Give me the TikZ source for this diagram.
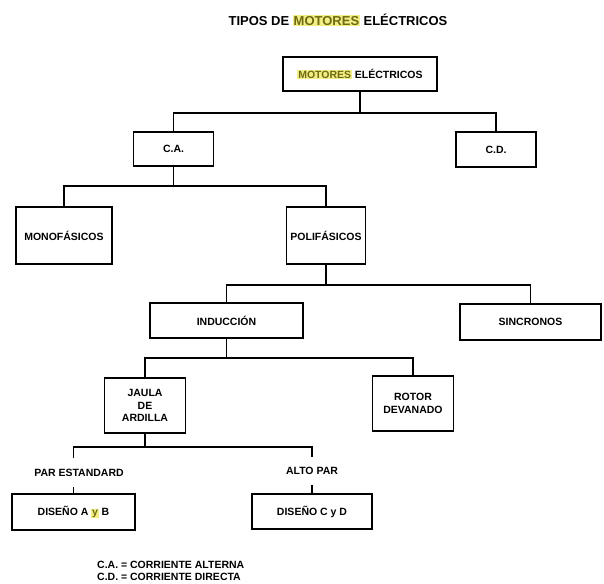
\documentclass[tikz,border=0pt]{standalone}
\usepackage{fontspec}
\setmainfont{Liberation Sans}
\definecolor{amarillo}{HTML}{F2EE86}
\definecolor{oliva}{HTML}{6E6A12}
\newcommand{\resalta}[1]{{\setlength{\fboxsep}{0.8pt}\colorbox{amarillo}{\textcolor{oliva}{#1}}}}

\begin{document}
\begin{tikzpicture}[x=1pt,y=-1pt,
	caja/.style={draw, line width=1.5pt, inner sep=0pt, align=center, font=\bfseries\fontsize{10.5}{12.5}\selectfont},
	etiqueta/.style={inner sep=0pt, minimum height=28pt, font=\bfseries\fontsize{10.5}{12.5}\selectfont}]
	\useasboundingbox (0,0) rectangle (604,583);
	\node[font=\bfseries\fontsize{13}{15}\selectfont] (titulo) at (338,20) {TIPOS DE \resalta{MOTORES} ELÉCTRICOS};
	\foreach \nom/\x/\y/\w/\h/\txt in {motores/360/74/154/34/{\resalta{MOTORES} ELÉCTRICOS}, ca/173.5/149/80/34/{C.A.}, cd/496/149.5/80/35/{C.D.},
		mono/64/235.5/96/57/{MONOFÁSICOS}, poli/326/235.5/79/57/{POLIFÁSICOS}, ind/226.5/320.5/153/35/{INDUCCIÓN}, sinc/530.5/322/141/36/{SINCRONOS},
		jaula/145/405.5/81/55/{JAULA\\DE\\ARDILLA}, rotor/413/403.5/81/55/{ROTOR\\DEVANADO}, dab/73.5/512/123/36/{DISEÑO A \resalta{y} B}, dcd/312/511.5/120/35/{DISEÑO C y D}} {
		\node[caja, minimum width=\w, minimum height=\h] (\nom) at (\x,\y) {\txt};
	}
	\node[etiqueta] (par) at (79,472.5) {PAR ESTANDARD};
	\node[etiqueta] (alto) at (312,471) {ALTO PAR};
	% ramas del arbol
	\foreach \pad/\izq/\der/\bus in {motores/ca/cd/113, ca/mono/poli/186, poli/ind/sinc/285, ind/jaula/rotor/358} {
		\draw[line width=1.5pt] (\pad.south) -- (\pad.south |- 0,\bus);
		\draw[line width=1.5pt] (\izq.north) |- (\der.north |- 0,\bus) -- (\der.north);
	}
	\draw[line width=1.5pt] (jaula.south) -- (jaula.south |- 0,447);
	\draw[line width=1.5pt] (dab.north |- par.north) |- (dcd.north |- 0,447) -- (dcd.north |- alto.north);
	\draw[line width=1.5pt] (dab.north |- par.south) -- (dab.north);
	\draw[line width=1.5pt] (dcd.north |- alto.south) -- (dcd.north);
	\node[anchor=west, align=left, inner sep=0pt, font=\bfseries\fontsize{10.5}{12}\selectfont] (leyenda) at (97,571) {C.A. = CORRIENTE ALTERNA\\C.D. = CORRIENTE DIRECTA};
\end{tikzpicture}
\end{document}
